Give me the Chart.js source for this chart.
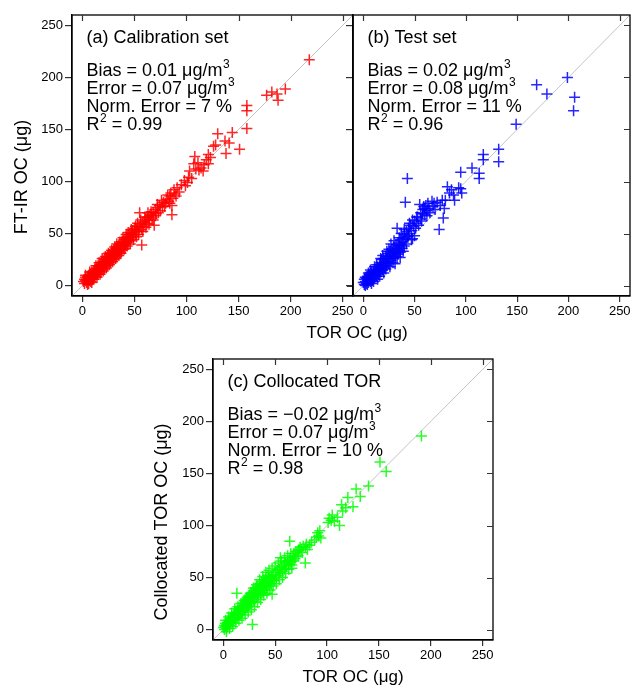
<!DOCTYPE html>
<html><head><meta charset="utf-8">
<script src="https://cdn.jsdelivr.net/npm/chart.js@4/dist/chart.umd.min.js"></script>
<style>
html,body{margin:0;padding:0;background:#fff;}
body{width:637px;height:688px;position:relative;overflow:hidden;}
canvas{position:absolute;}
</style></head><body>
<canvas id="ca" width="637" height="345" style="left:0;top:0"></canvas>
<canvas id="cb" width="292" height="345" style="left:345px;top:0"></canvas>
<canvas id="cc" width="360" height="343" style="left:140px;top:345px"></canvas>
<script>
const tickValues = [0, 50, 100, 150, 200, 250];
const axisMin = -10, axisMax = 260;
const oneToOne = [-10, 260];

const calibration = [
[1,4],[2,6],[2,2],[3,5],[3,8],[4,3],[4,6],[5,9],[5,5],[6,2],[6,7],[6,10],[7,5],[7,8],[8,11],[8,7],[8,4],[9,9],[9,13],[10,8],
[10,11],[10,6],[11,14],[11,10],[12,12],[12,9],[12,16],[13,11],[13,14],[14,17],[14,12],[15,15],[15,11],[15,19],[16,14],[16,17],[17,20],[17,15],[18,18],[18,13],
[18,22],[19,17],[19,20],[20,23],[20,18],[21,21],[21,16],[21,25],[22,20],[22,23],[23,27],[23,21],[24,24],[24,19],[24,28],[25,23],[25,26],[26,30],[26,24],[27,27],
[27,22],[28,31],[28,26],[28,29],[29,33],[29,27],[30,30],[30,25],[30,34],[31,29],[31,32],[32,36],[32,30],[33,33],[33,28],[34,37],[34,32],[34,35],[35,39],[35,33],
[36,36],[36,31],[37,40],[37,35],[38,38],[38,42],[38,34],[39,37],[39,41],[40,44],[40,38],[41,40],[41,36],[42,45],[42,41],[43,43],[43,47],[44,42],[44,46],[45,49],
[45,44],[46,47],[46,43],[47,50],[47,46],[48,49],[48,53],[49,47],[50,51],[50,55],[51,49],[52,53],[53,57],[54,52],[55,56],
[3,10],[5,1],[7,13],[9,3],[11,6],[13,19],[14,8],[16,22],[17,11],[19,26],[20,14],[22,28],[23,17],[25,31],[26,20],[28,34],[29,23],[31,37],[32,26],[33,40],
[35,29],[36,42],[37,31],[39,46],[40,35],[42,49],[43,38],[44,51],[46,40],[47,54],[49,44],[51,57],[52,47],[53,60],[54,49],[56,63],[58,52],[60,66],[61,56],[63,70],
[64,59],[66,67],[68,63],[70,67],[72,78],[73,70],[76,82],[79,76],[82,87],[84,79],
[55,70],[57,39],[56,59],[57,54],[58,61],[59,57],[60,62],[61,65],[62,60],[63,66],[64,63],[65,68],[66,71],[67,65],[68,70],[69,58],[70,73],[71,69],[72,75],[74,77],
[75,72],[77,76],[78,80],[80,79],[81,83],[83,81],[84,86],[86,68],[86,77],[85,89],[87,84],[88,92],[89,88],[90,86],[91,94],[93,90],[95,97],[98,101],[99,96],[101,99],
[102,104],[103,110],[105,103],[107,117],[108,124],[109,112],[111,118],[112,111],[114,113],[116,110],[117,116],[119,121],[121,117],[121,126],[123,123],[126,134],[128,135],[130,146],[137,139],[138,127],
[141,137],[144,147],[151,131],[158,173],[158,168],[158,151],[177,183],[182,186],[187,184],[195,189],[188,178],[218,217]
];

const testSet = [
[0,3],[1,1],[1,6],[2,4],[2,0],[3,7],[3,2],[4,5],[4,9],[5,3],[5,8],[6,11],[6,6],[7,4],[7,9],[8,13],[8,7],[9,10],[9,5],[10,14],
[10,9],[11,12],[11,7],[12,16],[12,11],[13,14],[13,9],[14,18],[14,13],[15,16],[15,11],[16,20],[16,15],[17,13],[17,22],[18,17],[18,25],[19,15],[19,21],[20,19],
[20,26],[21,17],[21,23],[22,28],[22,21],[23,19],[23,26],[24,31],[24,23],[25,28],[25,21],[26,33],[26,26],[27,30],[27,24],[28,35],[28,28],[29,32],[29,22],[30,37],
[30,29],[31,34],[31,27],[32,39],[32,31],[33,55],[33,36],[34,30],[34,41],[35,34],[35,38],[36,44],[36,32],[37,39],[38,46],[38,36],[39,42],[40,49],[40,38],[41,80],
[41,45],[42,52],[43,103],[43,47],[44,55],[45,50],[46,58],[47,53],[48,45],[49,57],[50,62],[51,55],[52,60],[53,66],
[2,8],[4,1],[5,12],[7,15],[8,2],[10,4],[11,18],[13,20],[14,6],[16,9],[17,26],[19,29],[20,12],[22,16],[23,33],[25,35],[26,18],[27,40],[29,26],[30,43],
[31,21],[33,28],[35,46],[36,27],[37,50],[39,33],[40,54],[42,40],[44,48],[45,60],[47,44],[48,63],[50,48],[52,66],[54,58],[56,64],[58,69],[59,76],[60,74],[62,67],
[55,78],[56,70],[57,62],[58,73],[60,68],[61,77],[62,72],[63,79],[64,74],[65,70],[67,81],[68,76],[69,79],[70,73],[72,80],[74,54],[75,77],[77,82],[78,65],[79,74],
[80,82],[82,95],[84,89],[86,92],[88,87],[89,82],[93,94],[95,109],[95,93],[96,89],[106,113],[113,108],[113,103],[117,126],[117,121],[132,131],[132,119],[149,155],[169,193],[179,184],
[199,200],[206,181],[205,168]
];

const collocated = [
[0,2],[1,0],[1,4],[2,3],[2,6],[3,1],[3,5],[4,7],[4,3],[5,6],[5,9],[6,4],[6,8],[7,11],[7,6],[8,9],[8,13],[9,7],[9,11],[10,14],
[10,9],[11,12],[11,16],[12,10],[13,35],[12,14],[13,17],[14,12],[14,16],[15,19],[15,14],[16,17],[16,21],[17,15],[17,19],[18,23],[18,17],[19,21],[19,25],[20,18],
[20,23],[21,27],[21,20],[22,24],[22,29],[23,21],[23,26],[24,31],[24,23],[25,28],[25,33],[26,25],[26,30],[27,35],[27,27],[28,5],[28,32],[29,29],[29,37],[30,33],
[30,27],[31,36],[31,40],[32,31],[32,38],[33,35],[33,42],[34,33],[34,39],[35,44],[35,37],[36,34],[36,41],[37,46],[37,39],[38,36],[38,43],[39,48],[39,41],[40,38],
[40,45],[41,50],[41,43],[42,40],[42,47],[43,52],[43,45],[44,42],[44,49],[45,47],[46,51],[46,44],[47,34],[47,49],[48,53],[49,47],[50,55],[51,50],[52,57],[53,52],
[54,58],[55,69],[55,55],[56,60],[57,56],[58,62],[59,58],[60,64],[61,61],[62,66],[63,63],[64,67],[65,65],
[2,9],[3,-2],[5,12],[6,1],[8,16],[9,3],[11,20],[12,6],[14,22],[15,9],[17,25],[18,11],[20,28],[21,14],[23,31],[24,17],[26,35],[27,19],[29,40],[30,22],
[32,43],[33,26],[35,48],[36,29],[38,51],[39,33],[41,55],[42,35],[44,57],[45,38],[47,59],[48,42],[50,61],[51,44],[53,64],[54,48],[56,66],[57,50],[59,69],[60,54],
[62,71],[63,58],[65,73],[66,62],[68,66],[70,70],[72,76],[75,77],
[64,85],[66,59],[67,70],[68,73],[69,68],[70,75],[72,71],[73,77],[74,79],[76,74],[77,80],[79,64],[79,79],[80,82],[81,77],[83,81],[85,84],[88,86],[90,89],[91,93],
[92,90],[93,95],[94,88],[101,103],[102,107],[104,105],[105,110],[107,104],[110,108],[112,100],[114,120],[115,114],[118,117],[120,127],[125,118],[128,135],[132,128],[140,138],[151,161],[157,152],
[191,186]
];

const panelTitles = ['(a) Calibration set', '(b) Test set', '(c) Collocated TOR'];
const statsA = [['Bias = 0.01 μg/m','3',''],['Error = 0.07 μg/m','3',''],['Norm. Error = 7 %','',''],['R','2',' = 0.99']];
const statsB = [['Bias = 0.02 μg/m','3',''],['Error = 0.08 μg/m','3',''],['Norm. Error = 11 %','',''],['R','2',' = 0.96']];
const statsC = [['Bias = −0.02 μg/m','3',''],['Error = 0.07 μg/m','3',''],['Norm. Error = 10 %','',''],['R','2',' = 0.98']];
const xTitle = 'TOR OC (μg)';
const yTitleA = 'FT-IR OC (μg)';
const yTitleC = 'Collocated TOR OC (μg)';

const FONT = "'Liberation Sans', Arial, Helvetica, sans-serif";

function makePlugin(p) {
  return {
    id: 'panelDecor',
    afterDatasetsDraw(chart) {
      const {ctx, chartArea: a, scales: {x, y}} = chart;
      ctx.save();
      ctx.strokeStyle = '#000'; ctx.lineWidth = 1.3;
      ctx.strokeRect(a.left, a.top, a.right - a.left, a.bottom - a.top);
      ctx.strokeStyle = '#333'; ctx.lineWidth = 1.2;
      ctx.beginPath();
      tickValues.forEach(v => {
        const px = Math.round(x.getPixelForValue(v)) + 0.5;
        ctx.moveTo(px, a.top); ctx.lineTo(px, a.top + 6);
        const py = Math.round(y.getPixelForValue(v)) + 0.5;
        ctx.moveTo(a.right, py); ctx.lineTo(a.right - 6, py);
      });
      ctx.stroke();
      ctx.fillStyle = '#000'; ctx.textAlign = 'left'; ctx.textBaseline = 'alphabetic';
      const tx = a.left + 14.5;
      ctx.font = '18px ' + FONT;
      ctx.fillText(p.title, tx, a.top + 28);
      let ty = a.top + 61;
      p.stats.forEach(l => {
        let cx = tx;
        ctx.font = '18px ' + FONT;
        ctx.fillText(l[0], cx, ty);
        cx += ctx.measureText(l[0]).width;
        if (l[1]) {
          ctx.font = '12px ' + FONT;
          ctx.fillText(l[1], cx + 0.5, ty - 8);
          cx += ctx.measureText(l[1]).width + 0.5;
        }
        if (l[2]) { ctx.font = '18px ' + FONT; ctx.fillText(l[2], cx, ty); }
        ty += 18;
      });
      if (p.yTitle) {
        ctx.save();
        ctx.translate(22, 177);
        ctx.rotate(-Math.PI / 2);
        ctx.font = '18px ' + FONT; ctx.textAlign = 'center'; ctx.textBaseline = 'middle';
        ctx.fillText(p.yTitle, 0, 0);
        ctx.restore();
      }
      if (p.sharedX) {
        ctx.font = '17px ' + FONT; ctx.textAlign = 'center'; ctx.textBaseline = 'middle';
        ctx.fillText(xTitle, 357, 333);
      }
      ctx.restore();
    }
  };
}

function panel(id, pts, color, p) {
  const W = p.w, H = p.h;
  return new Chart(document.getElementById(id), {
    type: 'scatter',
    data: {
      datasets: [
        { data: pts.map(v => ({x: v[0], y: v[1]})), pointStyle: 'cross', pointRadius: 5.5, pointHoverRadius: 5.5,
          borderColor: color, backgroundColor: color, borderWidth: 1.5 },
        { data: oneToOne.map(v => ({x: v, y: v})), showLine: true, pointRadius: 0, borderColor: '#c4c4c4', borderWidth: 1, fill: false }
      ]
    },
    options: {
      responsive: false, animation: false, events: [],
      layout: {padding: {left: 0, top: p.top, right: W - p.right, bottom: 0}},
      plugins: {legend: {display: false}, tooltip: {enabled: false}},
      scales: {
        x: {
          type: 'linear', min: axisMin, max: axisMax,
          afterBuildTicks: s => { s.ticks = tickValues.map(v => ({value: v})); },
          afterFit: s => { s.height = H - p.bottom; },
          ticks: {color: '#000', font: {family: FONT, size: 13}, padding: 2, autoSkip: false, maxRotation: 0},
          grid: {drawOnChartArea: false, drawTicks: true, tickLength: 6, color: '#333', lineWidth: 1.2},
          border: {display: true, color: '#000', width: 1.3},
          title: p.xTitle ? {display: true, text: xTitle, color: '#000', font: {family: FONT, size: 17}, padding: {top: 0, bottom: 0}} : {display: false}
        },
        y: {
          type: 'linear', min: axisMin, max: axisMax,
          afterBuildTicks: s => { s.ticks = tickValues.map(v => ({value: v})); },
          afterFit: s => { s.width = p.left; },
          ticks: {display: p.yLabels, color: '#000', font: {family: FONT, size: 13}, padding: 2},
          grid: {drawOnChartArea: false, drawTicks: true, tickLength: 7, color: '#333', lineWidth: 1.2},
          border: {display: true, color: '#000', width: 1.3}
        }
      }
    },
    plugins: [makePlugin(p)]
  });
}

panel('ca', calibration, 'rgba(255,0,0,0.85)', {w: 637, h: 345, left: 72, right: 353, top: 15, bottom: 296,
  yLabels: true, title: panelTitles[0], stats: statsA, yTitle: yTitleA, sharedX: true, xTitle: false});
panel('cb', testSet, 'rgba(0,0,255,0.85)', {w: 292, h: 345, left: 8, right: 289, top: 15, bottom: 296,
  yLabels: false, title: panelTitles[1], stats: statsB, yTitle: null, sharedX: false, xTitle: false});
panel('cc', collocated, 'rgba(0,255,0,0.85)', {w: 360, h: 343, left: 73, right: 353, top: 14, bottom: 295,
  yLabels: true, title: panelTitles[2], stats: statsC, yTitle: yTitleC, sharedX: false, xTitle: true});
</script>
</body></html>
